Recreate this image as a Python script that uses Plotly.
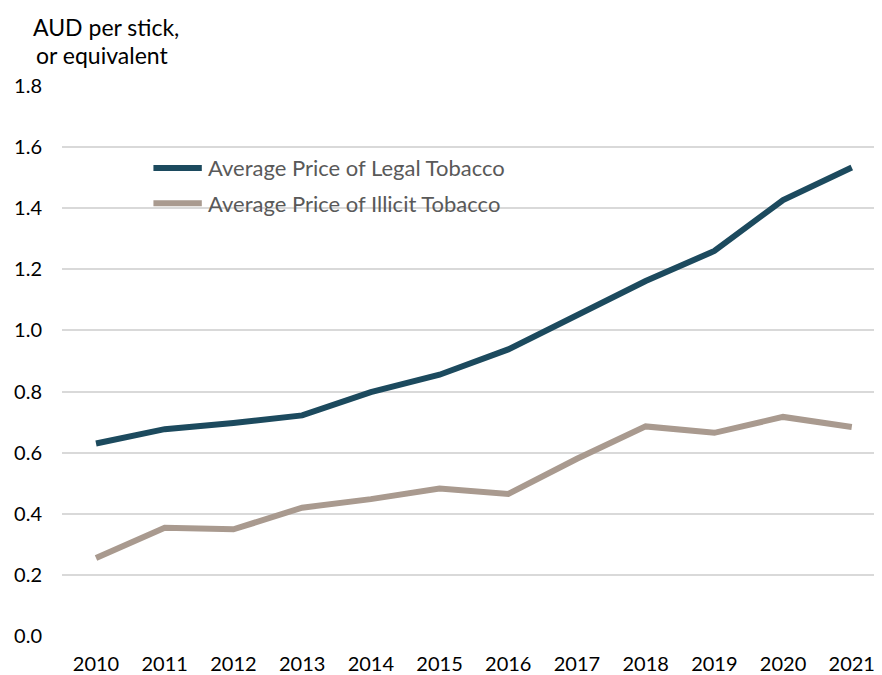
import plotly.graph_objects as go

years = ["2010", "2011", "2012", "2013", "2014", "2015", "2016", "2017", "2018", "2019", "2020", "2021"]
legal = [0.630, 0.677, 0.697, 0.722, 0.798, 0.855, 0.938, 1.050, 1.162, 1.260, 1.427, 1.533]
illicit = [0.255, 0.354, 0.349, 0.420, 0.448, 0.483, 0.465, 0.580, 0.686, 0.665, 0.717, 0.684]
y_ticks = [0.0, 0.2, 0.4, 0.6, 0.8, 1.0, 1.2, 1.4, 1.6, 1.8]
names = ["Average Price of Legal Tobacco", "Average Price of Illicit Tobacco"]
colors = ["#1C4A5E", "#A99A8F"]

FONT = "Lato"

fig = go.Figure()
fig.add_trace(go.Scatter(x=years, y=legal, mode="lines", name=names[0],
                         line=dict(color=colors[0], width=6), showlegend=False))
fig.add_trace(go.Scatter(x=years, y=illicit, mode="lines", name=names[1],
                         line=dict(color=colors[1], width=6), showlegend=False))

# custom legend (paper coordinates)
leg_rows = [0.851, 0.787]
shapes = []
annotations = []
for nm, col, yy in zip(names, colors, leg_rows):
    shapes.append(dict(type="line", xref="paper", yref="paper", x0=0.1115, x1=0.1705,
                       y0=yy, y1=yy, line=dict(color=col, width=6)))
    annotations.append(dict(text=nm, xref="paper", yref="paper", x=0.176, y=yy,
                            xanchor="left", yanchor="middle", showarrow=False,
                            font=dict(family=FONT, size=22, color="#595959")))

annotations.append(dict(text="AUD per stick,", xref="paper", yref="paper", x=-0.038, y=1.107,
                        xanchor="left", yanchor="middle", showarrow=False,
                        font=dict(family=FONT, size=23, color="black")))
annotations.append(dict(text="or equivalent", xref="paper", yref="paper", x=-0.034, y=1.056,
                        xanchor="left", yanchor="middle", showarrow=False,
                        font=dict(family=FONT, size=23, color="black")))

fig.update_layout(
    width=874, height=667,
    margin=dict(l=54, r=0, t=78, b=39),
    paper_bgcolor="white", plot_bgcolor="white",
    font=dict(family=FONT, size=20, color="black"),
    showlegend=False,
    xaxis=dict(type="category", range=[-0.495, 11.44], showgrid=False, zeroline=False,
               showline=False, ticks="", ticklabelstandoff=14,
               tickfont=dict(family=FONT, size=20, color="black")),
    yaxis=dict(range=[0, 1.8], tickvals=y_ticks, ticktext=[f"{v:.1f}" for v in y_ticks],
               showgrid=True, gridcolor="#D9D9D9", gridwidth=2, zeroline=False,
               showline=False, ticks="", ticklabelstandoff=19,
               tickfont=dict(family=FONT, size=20, color="black")),
    shapes=shapes,
    annotations=annotations,
)

fig.write_html("out.html")
